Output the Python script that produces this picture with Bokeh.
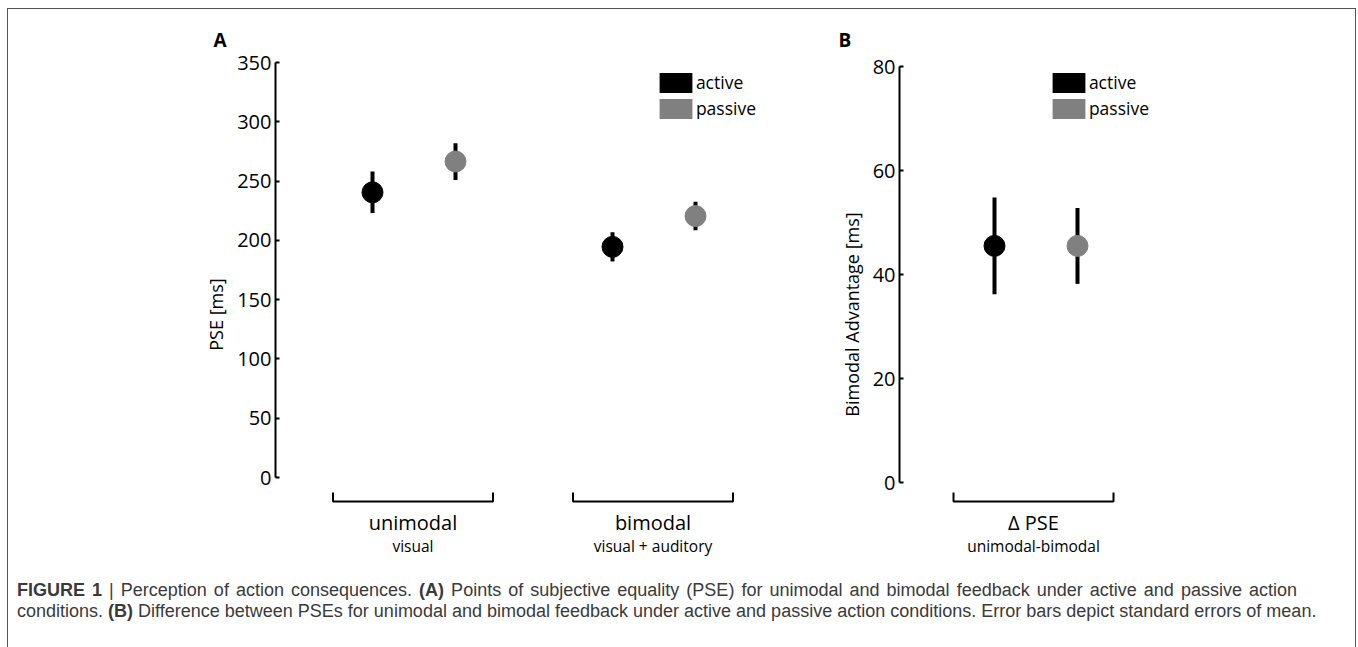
from bokeh.plotting import figure
from bokeh.models import Range1d, FixedTicker, Legend, LegendItem, Div, ColumnDataSource
from bokeh.layouts import row, column
from bokeh.embed import file_html
from bokeh.resources import INLINE
from bokeh.core.properties import value

# ---------------- data ----------------
groups = ["unimodal", "bimodal"]
group_notes = ["visual", "visual + auditory"]
conditions = ["active", "passive"]
cond_colors = ["#000000", "#808080"]
pse_mean = {"active": [240.5, 194.5], "passive": [266.5, 220.5]}
pse_se = {"active": [17.5, 12.3], "passive": [15.5, 12.0]}
adv_groups = ["\u0394 PSE"]
adv_notes = ["unimodal-bimodal"]
adv_mean = {"active": [45.5], "passive": [45.5]}
adv_se = {"active": [9.3], "passive": [7.3]}
pse_ticks = [0, 50, 100, 150, 200, 250, 300, 350]
adv_ticks = [0, 20, 40, 60, 80]

FONT = "Open Sans"
TOP = 9          # page y of figure top
BOTTOM = 569     # page y of figure bottom
TITLE_H = 50     # space above the frame, holds the panel letter
FRAME_TOP = TOP + TITLE_H
PX_PER_GROUP = 240.0
DODGE = 41.5 / PX_PER_GROUP
HALF_BRACKET = 80.0 / PX_PER_GROUP


def panel(fig_left, fig_width, axis_x, zero_y, top_y, ticks, cats, notes,
          means, ses, ylabel, letter, letter_x, legend_x, first_center, pt_shift):
    k = (zero_y - top_y) / ticks[-1]
    y_start = -(BOTTOM - zero_y) / k
    y_end = (zero_y - FRAME_TOP) / k
    x_start = 1 - (first_center - axis_x) / PX_PER_GROUP
    frame_w = fig_left + fig_width - axis_x
    x_end = x_start + frame_w / PX_PER_GROUP

    p = figure(width=fig_width, height=BOTTOM - TOP, output_backend="svg",
               toolbar_location=None, x_axis_location=None,
               x_range=Range1d(x_start, x_end), y_range=Range1d(y_start, y_end),
               min_border_left=axis_x - fig_left, min_border_right=0,
               min_border_top=TITLE_H, min_border_bottom=0)
    p.outline_line_color = None
    p.grid.visible = False

    p.title.text = letter
    p.title.align = "left"
    p.title.offset = letter_x - axis_x
    p.title.text_font = FONT
    p.title.text_font_size = "19px"
    p.title.text_font_style = "bold"
    p.title.text_color = "#000000"
    p.title.standoff = 13

    ax = p.yaxis[0]
    ax.ticker = FixedTicker(ticks=ticks, minor_ticks=[])
    ax.bounds = (ticks[0], ticks[-1])
    ax.axis_line_width = 2
    ax.major_tick_line_width = 2
    ax.major_tick_in = 4
    ax.major_tick_out = 0
    ax.minor_tick_in = 0
    ax.minor_tick_out = 0
    ax.major_label_text_font = FONT
    ax.major_label_text_font_size = "20px"
    ax.major_label_text_color = "#000000"
    ax.major_label_standoff = 4
    ax.axis_label = ylabel
    ax.axis_label_text_font = FONT
    ax.axis_label_text_font_size = "18px"
    ax.axis_label_text_font_style = "normal"
    ax.axis_label_text_color = "#000000"
    ax.axis_label_standoff = 6

    centers = [i + 1 for i in range(len(cats))]
    items = []
    for j, (cond, col) in enumerate(zip(conditions, cond_colors)):
        off = (-DODGE if j == 0 else DODGE) + pt_shift / PX_PER_GROUP
        xs = [c + off for c in centers]
        m = means[cond]
        s = ses[cond]
        src = ColumnDataSource(dict(x=xs, m=m, lo=[a - b for a, b in zip(m, s)],
                                    hi=[a + b for a, b in zip(m, s)]))
        p.segment(x0="x", y0="lo", x1="x", y1="hi", source=src,
                  line_color="#000000", line_width=4)
        p.scatter(x="x", y="m", source=src, size=21, marker="circle",
                  fill_color=col, line_color=col)
        # zero-size rects: only used to give the legend its filled swatch
        swatch = p.rect(x="x", y="m", width=0, height=0, source=src,
                        fill_color=col, line_color=None)
        items.append(LegendItem(label=cond, renderers=[swatch]))

    # brackets under each group
    by_top = -(492 - zero_y) / k
    by = -(501 - zero_y) / k
    bx, byy = [], []
    for c in centers:
        bx.append([c - HALF_BRACKET, c - HALF_BRACKET, c + HALF_BRACKET, c + HALF_BRACKET])
        byy.append([by_top, by, by, by_top])
    p.multi_line(xs=bx, ys=byy, line_color="#000000", line_width=2)
    p.text(x=centers, y=[by] * len(centers), text=cats, y_offset=21,
           text_font=value(FONT), text_font_size="20px", text_align="center",
           text_baseline="middle", text_color="#000000")
    p.text(x=centers, y=[by] * len(centers), text=notes, y_offset=44,
           text_font=value(FONT), text_font_size="15.5px", text_align="center",
           text_baseline="middle", text_color="#000000")

    # swatches are drawn inset by 10% of the glyph box
    gw, gh = 41.25, 25.0
    leg = Legend(items=items, location=(legend_x - 0.1 * gw - axis_x, BOTTOM - 120.5),
                 glyph_width=int(round(gw)), glyph_height=int(gh), spacing=1,
                 padding=0, margin=0, label_standoff=0, label_text_font=FONT,
                 label_text_font_size="17.5px", label_text_color="#000000",
                 border_line_color=None, background_fill_alpha=0)
    p.add_layout(leg)
    return p


pA = panel(8, 800, 275, 477, 62, pse_ticks, groups, group_notes, pse_mean, pse_se,
           "PSE [ms]", "A", 213, 659, 412.5, 1.0)
pB = panel(808, 546, 899, 482, 66, adv_ticks, adv_groups, adv_notes, adv_mean, adv_se,
           "Bimodal Advantage [ms]", "B", 838, 1052, 1033.0, 2.5)

caption_html = (
    '<div style="font-family:\'Liberation Sans\', Arial, sans-serif; font-size:18px; '
    'line-height:21px; color:#3a3a3a; margin:6px 0 0 4px;">'
    '<div style="width:1280px; text-align:justify; text-align-last:justify;">'
    '<b>FIGURE 1</b> | Perception of action consequences. <b>(A)</b> Points of subjective '
    'equality (PSE) for unimodal and bimodal feedback under active and passive action</div>'
    '<div style="white-space:nowrap;">'
    'conditions. <b>(B)</b> Difference between PSEs for unimodal and bimodal feedback under '
    'active and passive action conditions. Error bars depict standard errors of mean.</div></div>'
)
cap = Div(text=caption_html, width=1320, height=76)

layout = column(row(pA, pB), cap,
                styles={"border-left": "1px solid #555555", "border-top": "1px solid #555555",
                        "border-right": "1px solid #555555", "border-bottom": "none",
                        "margin": "8px 0 0 7px", "width": "1349px", "height": "639px",
                        "box-sizing": "border-box"})

open("out.html", "w").write(file_html(layout, INLINE))
